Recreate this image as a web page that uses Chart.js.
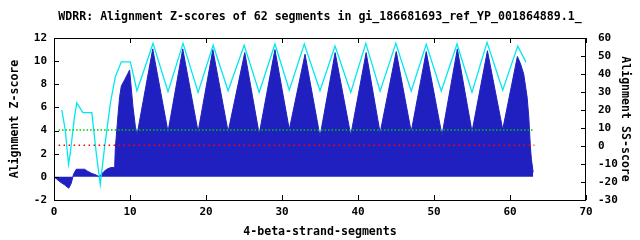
<!DOCTYPE html>
<html>
<head>
<meta charset="utf-8">
<script src="https://cdn.jsdelivr.net/npm/chart.js@4/dist/chart.umd.min.js"></script>
<style>
  html, body { margin: 0; padding: 0; background: #fff; }
  canvas { display: block; }
</style>
</head>
<body>
<canvas id="chart" width="640" height="240"></canvas>
<script>
/* WDRR alignment Z-scores / SS-scores per 4-beta-strand segment */

const TITLE = "WDRR: Alignment Z-scores of 62 segments in gi_186681693_ref_YP_001864889.1_";

// Z-score (filled, left axis)
const zPos = [
  0.07, 0.73, 1.38, 1.95, 2.27, 2.57, 2.93, 4.02, 4.32, 4.9, 5.56, 5.9, 6.22, 6.57, 6.96, 7.45, 7.98,
  8.07, 8.41, 8.64, 8.86, 9.29, 9.73, 9.95, 10.39, 10.71, 10.92,
  12.99, 15.0, 16.94, 18.96, 20.9, 22.91, 25.1, 27.0, 29.07, 30.96, 33.03, 35.0,
  36.99, 39.05, 41.07, 42.91, 45.03, 47.0, 48.98, 51.05, 53.07, 55.0, 57.03, 59.04,
  60.97, 61.37, 61.8, 62.25, 62.47, 62.69, 62.82, 63.05,
];
const zScore = [
  -0.03, -0.4, -0.69, -0.98, -0.55, 0.23, 0.66, 0.66, 0.52, 0.32, 0.15, 0.03, 0.2, 0.46, 0.66, 0.8, 0.8,
  2.47, 5.26, 6.93, 7.86, 8.38, 8.95, 9.24, 6.07, 4.34, 3.62,
  11.06, 3.9, 11.06, 3.9, 11.0, 3.9, 10.74, 3.7, 11.0, 4.1, 10.6, 3.5,
  10.74, 3.6, 10.74, 3.8, 10.83, 3.9, 10.83, 3.6, 11.06, 3.9, 10.9, 4.1,
  10.4, 9.8, 8.9, 6.9, 5.2, 2.5, 1.5, 0.4,
];

// SS-score (cyan line, right axis)
const ssPos = [
  1.03, 1.48, 1.91, 2.14, 2.7, 3.0, 3.8, 4.98, 5.56, 6.09, 6.66, 7.45, 8.07, 8.86, 10.05, 10.92,
  13.03, 15.0, 16.98, 18.96, 20.94, 22.91, 25.02, 27.0, 29.07, 30.96, 32.93, 35.0,
  36.98, 39.05, 41.03, 42.91, 44.98, 47.0, 48.98, 50.96, 53.03, 55.0, 56.98, 59.04,
  61.02, 62.1,
];
const ssScore = [
  20, 8.9, -10.2, -4, 16.3, 24, 18.5, 18.5, -4, -21.3, -0.4, 24.6, 38.5, 46.8, 46.8, 30.6,
  57, 30.2, 57, 29.8, 56, 30.7, 56, 29.8, 56.7, 31, 56.7, 30.7,
  55.5, 29.8, 57, 30.5, 57, 30.5, 56.5, 30.5, 56.7, 29.8, 57.6, 31,
  55.5, 46.6,
];

// dotted reference levels (Z-score units), drawn over the data range
const refRange = [0.6, 63.2];
const upperLevel = 4.05;
const lowerLevel = 2.73;

const xTicks = { min: 0, max: 70, step: 10 };
const zTicks = { min: -2, max: 12, step: 2 };
const ssTicks = { min: -30, max: 60, step: 10 };

const FONT = "'DejaVu Sans Mono', monospace";
const pts = (xs, ys) => xs.map((x, i) => ({ x, y: ys[i] }));
const flat = (v) => refRange.map((x) => ({ x, y: v }));

/* ── frame + inward ticks, gnuplot style ─────────────── */
const frameTicks = {
  id: "frameTicks",
  afterDatasetsDraw(chart) {
    const { ctx, chartArea: a, scales } = chart;
    const len = 5;
    ctx.save();
    ctx.strokeStyle = "#000";
    ctx.lineWidth = 1;
    ctx.strokeRect(a.left + 0.5, a.top + 0.5, a.right - a.left - 1, a.bottom - a.top);
    ctx.beginPath();
    scales.x.ticks.forEach((t) => {
      const px = Math.round(scales.x.getPixelForValue(t.value)) + 0.5;
      ctx.moveTo(px, a.bottom); ctx.lineTo(px, a.bottom - len);
      ctx.moveTo(px, a.top); ctx.lineTo(px, a.top + len);
    });
    scales.y.ticks.forEach((t) => {
      const py = Math.round(scales.y.getPixelForValue(t.value)) + 0.5;
      ctx.moveTo(a.left, py); ctx.lineTo(a.left + len, py);
    });
    scales.y2.ticks.forEach((t) => {
      const py = Math.round(scales.y2.getPixelForValue(t.value)) + 0.5;
      ctx.moveTo(a.right, py); ctx.lineTo(a.right - len, py);
    });
    ctx.stroke();
    ctx.restore();
  },
};

const tickFont = { family: FONT, size: 11, weight: "bold" };
const labelFont = { family: FONT, size: 11.6, weight: "bold" };

new Chart(document.getElementById("chart"), {
  type: "line",
  data: {
    datasets: [
      {
        label: "Z-score",
        data: pts(zPos, zScore),
        yAxisID: "y",
        borderColor: "#2020c0",
        backgroundColor: "#2020c0",
        borderWidth: 1,
        pointRadius: 0,
        fill: "origin",
        order: 4,
      },
      {
        label: "SS-score",
        data: pts(ssPos, ssScore),
        yAxisID: "y2",
        borderColor: "#00e8f0",
        borderWidth: 1.3,
        pointRadius: 0,
        fill: false,
        order: 3,
      },
      {
        label: "upper",
        data: flat(upperLevel),
        yAxisID: "y",
        borderColor: "#00c800",
        borderWidth: 1.5,
        borderDash: [1.5, 2],
        pointRadius: 0,
        fill: false,
        order: 2,
      },
      {
        label: "lower",
        data: flat(lowerLevel),
        yAxisID: "y",
        borderColor: "#ff0000",
        borderWidth: 1.5,
        borderDash: [1.5, 3.5],
        pointRadius: 0,
        fill: false,
        order: 1,
      },
    ],
  },
  options: {
    responsive: false,
    animation: false,
    devicePixelRatio: 1,
    layout: { padding: 0 },
    plugins: {
      legend: { display: false },
      tooltip: { enabled: false },
      title: {
        display: true,
        text: TITLE,
        color: "#000",
        font: labelFont,
        padding: { top: 10.3, bottom: 13.8 },
      },
    },
    scales: {
      x: {
        type: "linear",
        min: xTicks.min,
        max: xTicks.max,
        ticks: { stepSize: xTicks.step, color: "#000", font: tickFont, padding: 6, maxRotation: 0 },
        grid: { display: false, drawTicks: false },
        border: { display: false },
        title: { display: true, text: "4-beta-strand-segments", color: "#000", font: labelFont, padding: { top: 0, bottom: 1 } },
        afterFit: (s) => { s.height = 40; },
      },
      y: {
        position: "left",
        min: zTicks.min,
        max: zTicks.max,
        ticks: { stepSize: zTicks.step, color: "#000", font: tickFont, padding: 7 },
        grid: { display: false, drawTicks: false },
        border: { display: false },
        title: { display: true, text: "Alignment Z-score", color: "#000", font: labelFont, padding: { top: 8, bottom: 0 } },
        afterFit: (s) => { s.width = 54; },
      },
      y2: {
        position: "right",
        min: ssTicks.min,
        max: ssTicks.max,
        ticks: { stepSize: ssTicks.step, color: "#000", font: tickFont, padding: 12 },
        grid: { display: false, drawTicks: false },
        border: { display: false },
        title: { display: true, text: "Alignment SS-score", color: "#000", font: labelFont, padding: { top: 8, bottom: 0 } },
        afterFit: (s) => { s.width = 54; },
      },
    },
  },
  plugins: [frameTicks],
});
</script>
</body>
</html>
